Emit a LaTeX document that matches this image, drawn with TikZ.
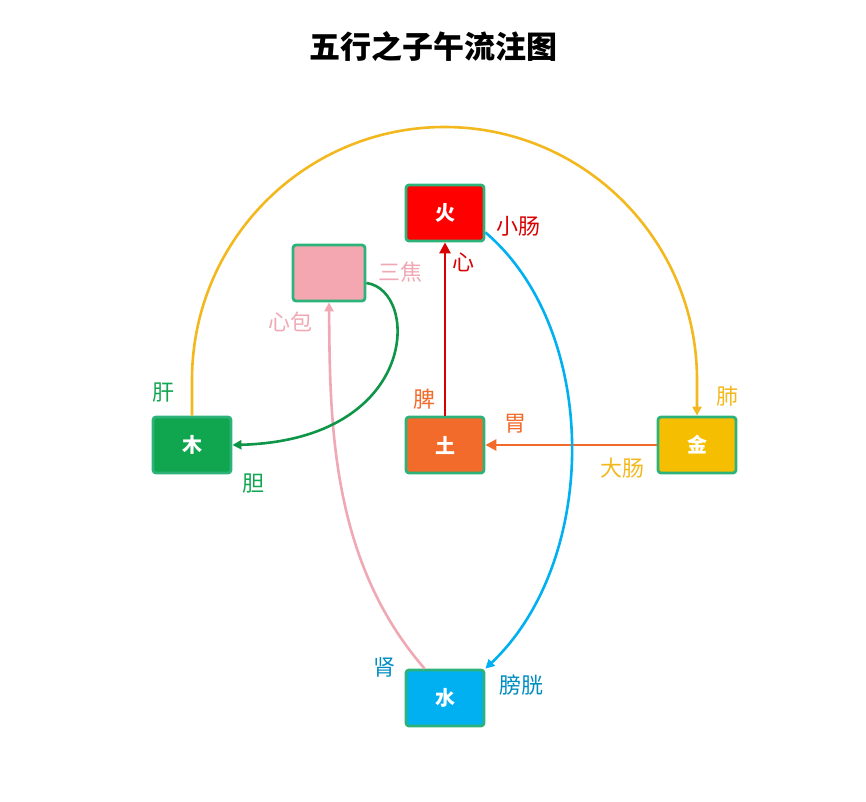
\documentclass[tikz,border=0pt]{standalone}
\usepackage{fontspec}
\setmainfont{Noto Sans CJK SC}
\usetikzlibrary{arrows.meta}
\definecolor{bd}{HTML}{2DB37A}
\definecolor{cfire}{HTML}{FF0000}
\definecolor{cpink}{HTML}{F4A7B0}
\definecolor{cwood}{HTML}{10A650}
\definecolor{cearth}{HTML}{F26B2B}
\definecolor{cmetal}{HTML}{F6BE00}
\definecolor{cwater}{HTML}{00B0F0}
\definecolor{lpink}{HTML}{EFA8B4}
\definecolor{lyel}{HTML}{F2B81E}
\tikzset{box/.style={draw=bd,line width=2.8pt,rounded corners=3pt,minimum width=78pt,minimum height=56pt,text=white,font=\fontsize{20}{20}\selectfont\bfseries},
lab/.style={font=\fontsize{22}{22}\selectfont},
con/.style={line width=2.6pt,-{Triangle[length=11pt,width=11pt]}}}
\begin{document}
\begin{tikzpicture}[x=1pt,y=-1pt]
\useasboundingbox (0,0) rectangle (866,801);
\node[font=\fontsize{31}{31}\selectfont\bfseries] (title) at (433,47) {五行之子午流注图};
\node[box,fill=cfire] (fire) at (445,213) {火};
\node[box,fill=cpink,minimum width=72pt] (sj) at (329,273) {};
\node[box,fill=cwood] (wood) at (192,445) {木};
\node[box,fill=cearth] (earth) at (445,445) {土};
\node[box,fill=cmetal] (metal) at (697,445) {金};
\node[box,fill=cwater] (water) at (445,698) {水};
\draw[con,draw=lyel,-{Triangle[length=9pt,width=9pt]}] (wood.north) -- (192,380) arc[start angle=180,end angle=360,x radius=252.5,y radius=253] -- (metal.north);
\draw[con,draw=cfire!85!black] (earth.north) -- (fire.south);
\draw[con,draw=cearth] (metal.west) -- (earth.east);
\draw[con,draw=cwater,-{Triangle[length=9pt,width=9pt]}] (fire.south east) ++(0,-10) coordinate (c1) .. controls (600,330) and (600,560) .. (water.north east);
\draw[con,draw=lpink,-{Triangle[length=9pt,width=9pt]}] (water.north west) ++(20,0) coordinate (c2) .. controls (330,560) and (330,420) .. (sj.south);
\draw[con,draw=cwood!90!black,-{Triangle[length=9pt,width=9pt]}] (sj.east) ++(0,10) coordinate (c3) .. controls (420,290) and (420,440) .. (wood.east);
\node[lab,text=cfire!85!black] (l1) at (518,226) {小肠};
\node[lab,text=cfire!85!black] (l2) at (463,262) {心};
\node[lab,text=lpink] (l3) at (400,272) {三焦};
\node[lab,text=lpink] (l4) at (290,322) {心包};
\node[lab,text=cwood] (l5) at (163,393) {肝};
\node[lab,text=cwood] (l6) at (253,484) {胆};
\node[lab,text=cearth] (l7) at (424,399) {脾};
\node[lab,text=cearth] (l8) at (515,424) {胃};
\node[lab,text=lyel] (l9) at (727,396) {肺};
\node[lab,text=lyel] (l10) at (622,468) {大肠};
\node[lab,text=cwater!80!black] (l11) at (384,667) {肾};
\node[lab,text=cwater!80!black] (l12) at (521,685) {膀胱};
\end{tikzpicture}
\end{document}
